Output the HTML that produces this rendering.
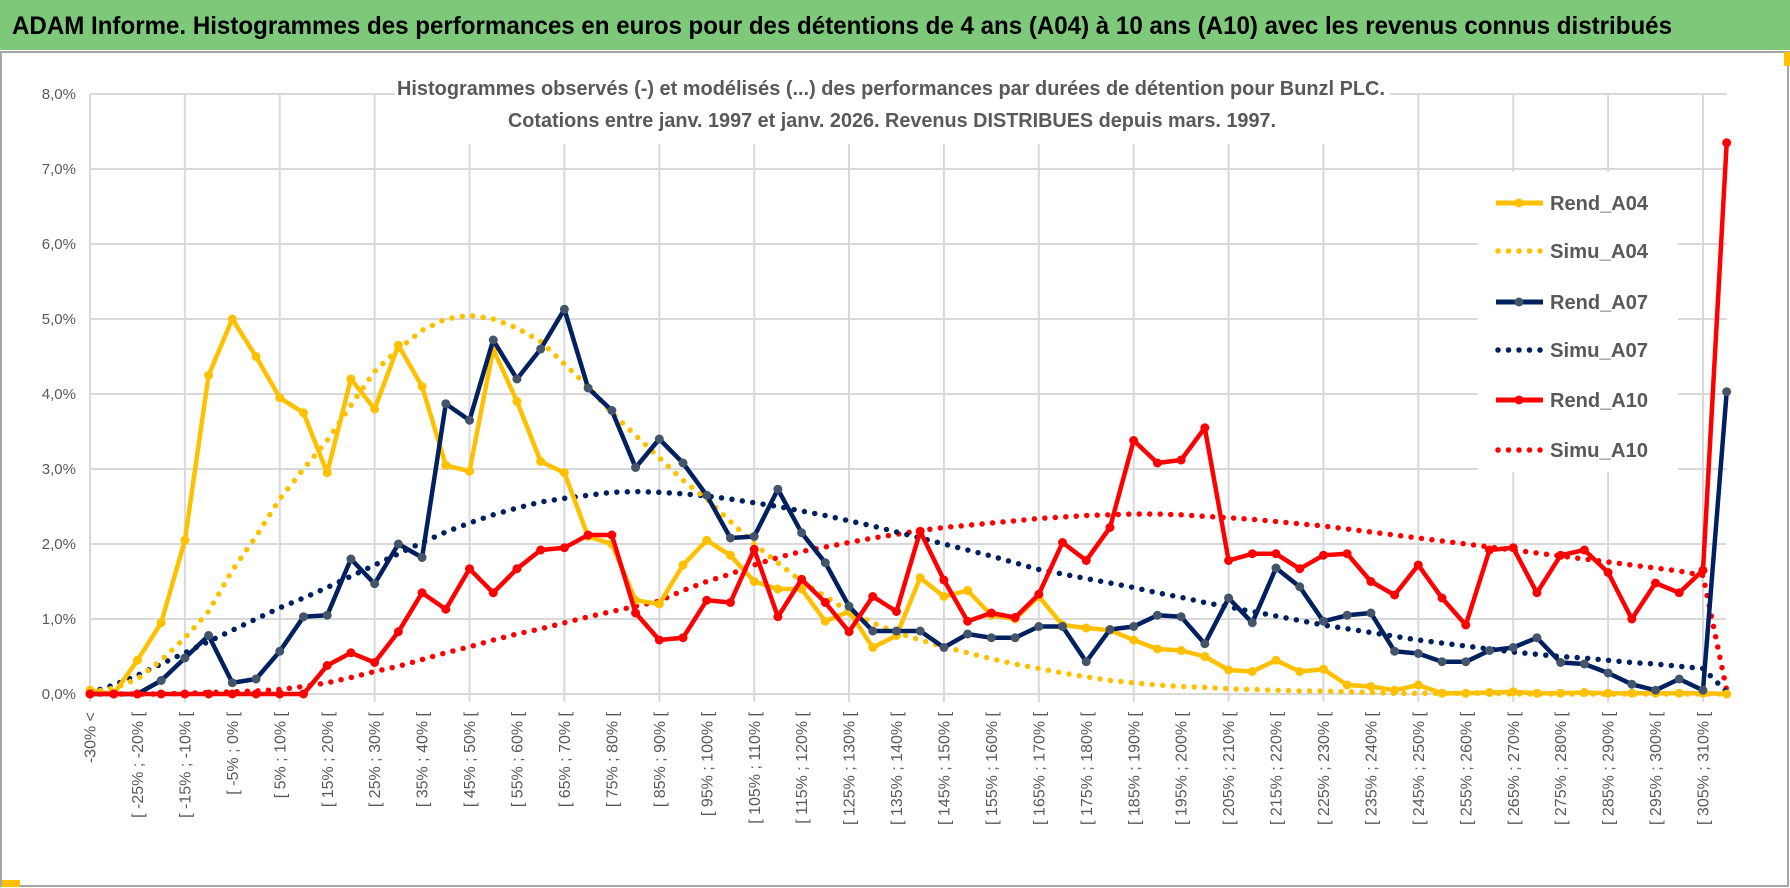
<!DOCTYPE html>
<html><head><meta charset="utf-8"><style>
html,body{margin:0;padding:0;background:#fff;}
svg{display:block;font-family:"Liberation Sans Narrow","Liberation Sans",sans-serif;}
</style></head><body>
<svg id="chart" width="1790" height="888" viewBox="0 0 1790 888" xmlns="http://www.w3.org/2000/svg">
<rect x="0" y="0" width="1790" height="888" fill="#fff"/>
<rect x="0" y="0" width="1790" height="50" fill="#7ec87a"/>
<line x1="0" y1="52" x2="1790" y2="52" stroke="#bfbfbf" stroke-width="2"/>
<text x="12" y="34" font-size="25" font-weight="bold" fill="#000" textLength="1660" lengthAdjust="spacingAndGlyphs">ADAM Informe. Histogrammes des performances en euros pour des détentions de 4 ans (A04) à 10 ans (A10) avec les revenus connus distribués</text>
<rect x="1" y="52" width="1787" height="834" fill="none" stroke="#a6a6a6" stroke-width="2"/>
<rect x="1784" y="52" width="6" height="14" fill="#ffc000"/>
<rect x="2" y="880" width="18" height="7" fill="#ffc000"/>
<g id="grid"></g>
<g id="yticks"></g>
<g id="xticks"></g>
<g id="series"></g>
<rect x="395" y="66" width="995" height="78" fill="#fff"/>
<text x="891" y="95" text-anchor="middle" font-size="20" font-weight="bold" fill="#595959" textLength="988" lengthAdjust="spacingAndGlyphs">Histogrammes observés (-) et modélisés (...) des performances par durées de détention pour Bunzl PLC.</text>
<text x="892" y="127" text-anchor="middle" font-size="20" font-weight="bold" fill="#595959" textLength="768" lengthAdjust="spacingAndGlyphs">Cotations entre janv. 1997 et janv. 2026. Revenus DISTRIBUES depuis mars. 1997.</text>
<g id="legend"></g>
</svg>
<script>
const categories = ["-30% <","[ -30% ; -25% [","[ -25% ; -20% [","[ -20% ; -15% [","[ -15% ; -10% [","[ -10% ; -5% [","[ -5% ; 0% [","[ 0% ; 5% [","[ 5% ; 10% [","[ 10% ; 15% [","[ 15% ; 20% [","[ 20% ; 25% [","[ 25% ; 30% [","[ 30% ; 35% [","[ 35% ; 40% [","[ 40% ; 45% [","[ 45% ; 50% [","[ 50% ; 55% [","[ 55% ; 60% [","[ 60% ; 65% [","[ 65% ; 70% [","[ 70% ; 75% [","[ 75% ; 80% [","[ 80% ; 85% [","[ 85% ; 90% [","[ 90% ; 95% [","[ 95% ; 100% [","[ 100% ; 105% [","[ 105% ; 110% [","[ 110% ; 115% [","[ 115% ; 120% [","[ 120% ; 125% [","[ 125% ; 130% [","[ 130% ; 135% [","[ 135% ; 140% [","[ 140% ; 145% [","[ 145% ; 150% [","[ 150% ; 155% [","[ 155% ; 160% [","[ 160% ; 165% [","[ 165% ; 170% [","[ 170% ; 175% [","[ 175% ; 180% [","[ 180% ; 185% [","[ 185% ; 190% [","[ 190% ; 195% [","[ 195% ; 200% [","[ 200% ; 205% [","[ 205% ; 210% [","[ 210% ; 215% [","[ 215% ; 220% [","[ 220% ; 225% [","[ 225% ; 230% [","[ 230% ; 235% [","[ 235% ; 240% [","[ 240% ; 245% [","[ 245% ; 250% [","[ 250% ; 255% [","[ 255% ; 260% [","[ 260% ; 265% [","[ 265% ; 270% [","[ 270% ; 275% [","[ 275% ; 280% [","[ 280% ; 285% [","[ 285% ; 290% [","[ 290% ; 295% [","[ 295% ; 300% [","[ 300% ; 305% [","[ 305% ; 310% [","[ 310% ; 315% ["];
const yTicks = [0,1,2,3,4,5,6,7,8];
const yTickLabels = ["0,0%","1,0%","2,0%","3,0%","4,0%","5,0%","6,0%","7,0%","8,0%"];
const rendA04 = [0.05,0,0.45,0.95,2.05,4.25,5.0,4.5,3.95,3.75,2.95,4.2,3.8,4.65,4.1,3.05,2.97,4.6,3.9,3.1,2.95,2.1,2.0,1.25,1.2,1.72,2.05,1.85,1.5,1.4,1.4,0.97,1.1,0.62,0.78,1.55,1.3,1.38,1.05,1.0,1.3,0.92,0.88,0.85,0.72,0.6,0.58,0.5,0.32,0.3,0.45,0.3,0.33,0.12,0.1,0.05,0.12,0.01,0.01,0.02,0.03,0.01,0.01,0.02,0.01,0.01,0.01,0.01,0.01,0.0];
const simuA04 = [0.02,0.08,0.2,0.45,0.75,1.1,1.65,2.1,2.6,3.0,3.38,3.85,4.3,4.6,4.85,5.0,5.05,5.0,4.88,4.7,4.4,4.1,3.75,3.45,3.15,2.85,2.6,2.3,2.0,1.75,1.5,1.3,1.1,0.95,0.82,0.72,0.63,0.55,0.47,0.4,0.34,0.28,0.23,0.18,0.15,0.12,0.1,0.09,0.07,0.06,0.05,0.04,0.04,0.03,0.02,0.01,0.01,0.01,0.01,0.01,0,0,0,0,0,0,0,0,0,0];
const rendA07 = [0,0,0,0.18,0.48,0.78,0.15,0.2,0.57,1.03,1.05,1.8,1.47,2.0,1.82,3.87,3.65,4.72,4.2,4.6,5.13,4.08,3.78,3.02,3.4,3.08,2.65,2.08,2.1,2.73,2.15,1.75,1.17,0.84,0.84,0.84,0.62,0.8,0.75,0.75,0.9,0.9,0.43,0.86,0.9,1.05,1.03,0.67,1.28,0.95,1.68,1.43,0.97,1.05,1.08,0.57,0.54,0.43,0.43,0.58,0.62,0.75,0.42,0.4,0.28,0.13,0.05,0.2,0.05,4.03];
const simuA07 = [0.02,0.12,0.25,0.4,0.55,0.7,0.85,1.0,1.15,1.28,1.42,1.57,1.72,1.87,2.02,2.16,2.28,2.39,2.48,2.56,2.61,2.65,2.69,2.7,2.69,2.67,2.64,2.6,2.55,2.5,2.44,2.38,2.31,2.24,2.16,2.08,2.0,1.92,1.84,1.75,1.66,1.6,1.54,1.48,1.42,1.35,1.29,1.22,1.16,1.1,1.04,0.98,0.92,0.87,0.82,0.77,0.72,0.68,0.64,0.6,0.56,0.53,0.5,0.48,0.45,0.42,0.4,0.37,0.34,0.03];
const rendA10 = [0,0,0,0,0,0,0,0,0,0,0.38,0.55,0.42,0.83,1.35,1.13,1.67,1.35,1.67,1.92,1.95,2.12,2.12,1.08,0.72,0.75,1.25,1.22,1.93,1.03,1.53,1.22,0.83,1.3,1.1,2.17,1.52,0.97,1.08,1.02,1.33,2.02,1.78,2.22,3.38,3.08,3.12,3.55,1.78,1.87,1.87,1.67,1.85,1.87,1.5,1.32,1.72,1.28,0.92,1.92,1.95,1.35,1.85,1.92,1.62,1.0,1.48,1.35,1.65,7.35];
const simuA10 = [0,0,0,0,0.01,0.02,0.03,0.04,0.06,0.1,0.15,0.22,0.3,0.37,0.46,0.55,0.63,0.72,0.8,0.87,0.95,1.03,1.1,1.17,1.24,1.38,1.5,1.6,1.72,1.82,1.9,1.96,2.02,2.08,2.13,2.18,2.22,2.25,2.28,2.31,2.34,2.36,2.38,2.39,2.4,2.4,2.39,2.37,2.35,2.33,2.3,2.27,2.24,2.2,2.16,2.12,2.08,2.04,2.0,1.96,1.92,1.88,1.84,1.8,1.76,1.72,1.68,1.64,1.58,0.05];
const legendLabels = ["Rend_A04","Simu_A04","Rend_A07","Simu_A07","Rend_A10","Simu_A10"];

const NS = "http://www.w3.org/2000/svg";
const X0 = 90, DX = 23.72, Y0 = 694, PY = 75;
function xScale(i){ return X0 + i * DX; }
function yScale(v){ return Y0 - v * PY; }
function mk(tag, attrs, parent){ const e = document.createElementNS(NS, tag); for (const k in attrs) e.setAttribute(k, attrs[k]); parent.appendChild(e); return e; }

const grid = document.getElementById('grid');
yTicks.forEach((t) => {
  const l = mk('line', {x1: xScale(0), x2: xScale(categories.length - 1), y1: yScale(t), y2: yScale(t), stroke: '#d9d9d9', 'stroke-width': 2}, grid);
  
  
});
for (let i = 0; i < categories.length; i += 4) {
  const l = mk('line', {x1: xScale(i), x2: xScale(i), y1: yScale(8), y2: yScale(0) + 8, stroke: '#d9d9d9', 'stroke-width': 2}, grid);
  
  
}
const yt = document.getElementById('yticks');
yTicks.forEach((t, k) => {
  const e = mk('text', {x: 76, y: yScale(t) + 5, 'text-anchor': 'end', 'font-size': 15, fill: '#595959'}, yt);
  e.textContent = yTickLabels[k];
  
  
});
const xt = document.getElementById('xticks');
categories.forEach((c, i) => {
  if (i % 2) return;
  const x = xScale(i);
  const e = mk('text', {x: x, y: 712, 'text-anchor': 'end', 'font-size': 16, fill: '#595959', 'font-family': '"Liberation Sans", sans-serif', transform: 'rotate(-90 ' + x + ' 712)', dy: '0.35em'}, xt);
  e.textContent = c;
  
  
});

const seriesDefs = [
  {name: 'simu-a10', data: simuA10, color: '#ff0000', dotted: true},
  {name: 'simu-a07', data: simuA07, color: '#002060', dotted: true},
  {name: 'simu-a04', data: simuA04, color: '#ffc000', dotted: true},
  {name: 'rend-a04', data: rendA04, color: '#ffc000', marker: '#ffc000'},
  {name: 'rend-a07', data: rendA07, color: '#002060', marker: '#44546a'},
  {name: 'rend-a10', data: rendA10, color: '#ff0000', marker: '#ff0000'}
];
const sg = document.getElementById('series');
seriesDefs.forEach((s) => {
  const pts = s.data.map((v, i) => xScale(i).toFixed(1) + ',' + yScale(v).toFixed(1)).join(' ');
  const attrs = {points: pts, fill: 'none', stroke: s.color, 'stroke-linejoin': 'round'};
  if (s.dotted) { attrs['stroke-width'] = 5.5; attrs['stroke-dasharray'] = '0 10.5'; attrs['stroke-linecap'] = 'round'; }
  else { attrs['stroke-width'] = 4.5; }
  const pl = mk('polyline', attrs, sg);
  
  
  if (s.marker) {
    s.data.forEach((v, i) => {
      const c = mk('circle', {cx: xScale(i), cy: yScale(v), r: 4.5, fill: s.marker}, sg);
      
      
    });
  }
});

const lg = document.getElementById('legend');
mk('rect', {x: 1478, y: 172, width: 200, height: 300, fill: '#fff'}, lg);
const legYs = [203, 251, 302, 350, 400, 450];
const legColors = ['#ffc000', '#ffc000', '#002060', '#002060', '#ff0000', '#ff0000'];
const legMarkers = ['#ffc000', null, '#44546a', null, '#ff0000', null];
legendLabels.forEach((lab, k) => {
  const y = legYs[k];
  const g = mk('g', {}, lg);
  
  
  if (legMarkers[k]) {
    mk('line', {x1: 1496, x2: 1543, y1: y, y2: y, stroke: legColors[k], 'stroke-width': 5}, g);
    mk('circle', {cx: 1519, cy: y, r: 4.5, fill: legMarkers[k]}, g);
  } else {
    mk('line', {x1: 1498, x2: 1543, y1: y, y2: y, stroke: legColors[k], 'stroke-width': 5.5, 'stroke-dasharray': '0 10.5', 'stroke-linecap': 'round'}, g);
  }
  const t = mk('text', {x: 1550, y: y + 7, 'font-size': 20, 'font-weight': 'bold', fill: '#595959', textLength: 98, lengthAdjust: 'spacingAndGlyphs'}, g);
  t.textContent = lab;
});
</script>
</body></html>
